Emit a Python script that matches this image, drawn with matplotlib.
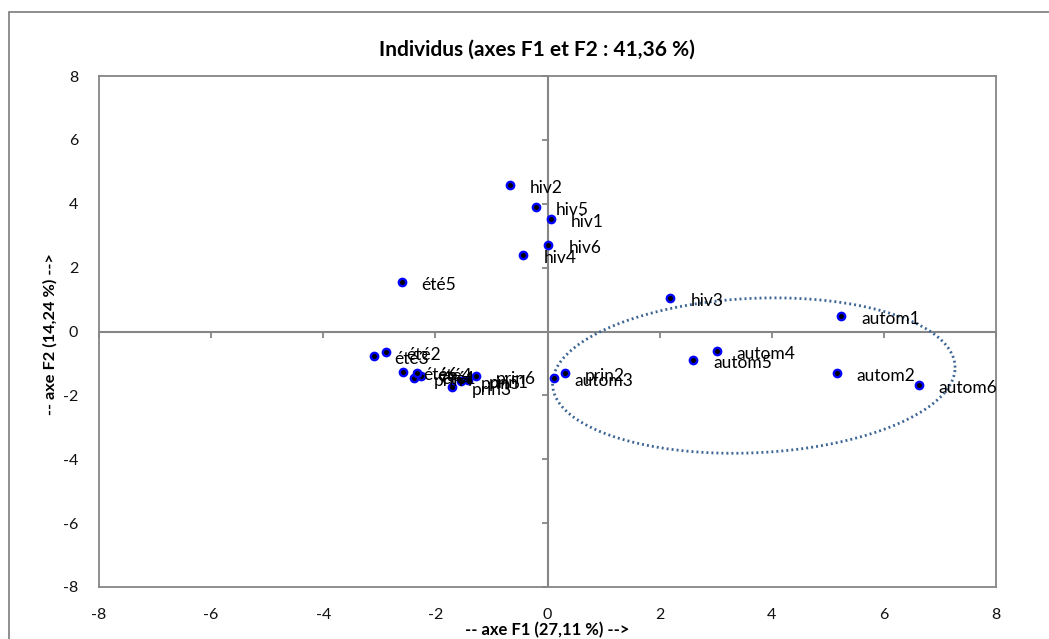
import matplotlib
matplotlib.use("Agg")
import matplotlib.pyplot as plt
import numpy as np
from matplotlib.patches import Rectangle

# ---- data ----
labels = ["hiv1", "hiv2", "hiv3", "hiv4", "hiv5", "hiv6",
          "prin1", "prin2", "prin3", "prin4", "prin5", "prin6",
          "été1", "été2", "été3", "été4", "été5", "été6",
          "autom1", "autom2", "autom3", "autom4", "autom5", "autom6"]
f1 = [0.06, -0.67, 2.19, -0.43, -0.205, 0.015,
      -1.41, 0.31, -1.71, -2.39, -1.54, -1.28,
      -2.26, -2.88, -3.09, -2.32, -2.60, -2.58,
      5.24, 5.16, 0.12, 3.02, 2.60, 6.62]
f2 = [3.53, 4.59, 1.06, 2.39, 3.89, 2.71,
      -1.52, -1.29, -1.73, -1.45, -1.54, -1.39,
      -1.39, -0.63, -0.76, -1.31, 1.55, -1.26,
      0.49, -1.30, -1.45, -0.61, -0.89, -1.67]
ticks = [-8, -6, -4, -2, 0, 2, 4, 6, 8]
title = "Individus (axes F1 et F2 : 41,36 %)"
xlabel = "-- axe F1 (27,11 %) -->"
ylabel = "-- axe F2 (14,24 %) -->"

# ellipse annotation (data units)
ell_cx, ell_cy, ell_a, ell_b, ell_tilt = 3.68, -1.38, 3.59, 2.42, 0.25

plt.rcParams['font.family'] = ['Lato', 'DejaVu Sans']
GRAY = "#868686"

fig = plt.figure(figsize=(10.49, 6.39), dpi=100)
W, H = 1049, 639
ax = fig.add_axes([99 / W, 1 - 587 / H, (996 - 99) / W, (587 - 76) / H])
ax.set_xlim(-8, 8)
ax.set_ylim(-8, 8)
ax.set_xticks(ticks)
ax.set_yticks(ticks)
ax.set_xticklabels([str(t) for t in ticks])
ax.set_yticklabels([str(t) for t in ticks])
ax.tick_params(length=0, labelsize=11.5, pad=15, labelcolor='#111111')
for s in ax.spines.values():
    s.set_color(GRAY)
    s.set_linewidth(1.3)

# zero axes with Excel-like tick marks
ax.axhline(0, color=GRAY, lw=1.5, zorder=1)
ax.axvline(0, color=GRAY, lw=1.5, zorder=1)
ax.plot(ticks, [0] * len(ticks), linestyle='none', marker=3, ms=4.5,
        mew=1.3, color=GRAY, zorder=1, clip_on=False)
ax.plot([0] * len(ticks), ticks, linestyle='none', marker=0, ms=4.5,
        mew=1.3, color=GRAY, zorder=1, clip_on=False)

# ellipse
t = np.linspace(0, 2 * np.pi, 400)
ex = ell_cx + ell_a * np.cos(t)
ey = ell_cy + ell_b * np.sin(t) + ell_tilt * np.cos(t)
ax.plot(ex, ey, color="#3d6594", lw=2.0, linestyle=(0, (0.7, 1.1)),
        dash_capstyle='butt', zorder=2)

# points
ax.plot(f1, f2, linestyle='none', marker='o', ms=5.3, mfc='black',
        mec='#0000FF', mew=1.7, zorder=3)
for lab, x, y in zip(labels, f1, f2):
    ax.annotate(lab, (x, y), xytext=(20, -3), textcoords='offset pixels',
                ha='left', va='center', fontsize=12.5, color='black', zorder=4)

fig.text(536.5 / W, 1 - 50 / H, title, ha='center', va='center',
         fontsize=15, fontweight='bold')
fig.text(547.5 / W, 1 - 630 / H, xlabel, ha='center', va='center',
         fontsize=12, fontweight='bold')
fig.text(50 / W, 1 - 334 / H, ylabel, ha='center', va='center',
         fontsize=11.8, fontweight='bold', rotation=90)

# outer chart border
fig.add_artist(Rectangle((9 / W, -0.2), 1.2, (H - 12) / H + 0.2,
                         transform=fig.transFigure, fill=False,
                         edgecolor=GRAY, lw=1.3))

fig.savefig("out.png", dpi=100)
